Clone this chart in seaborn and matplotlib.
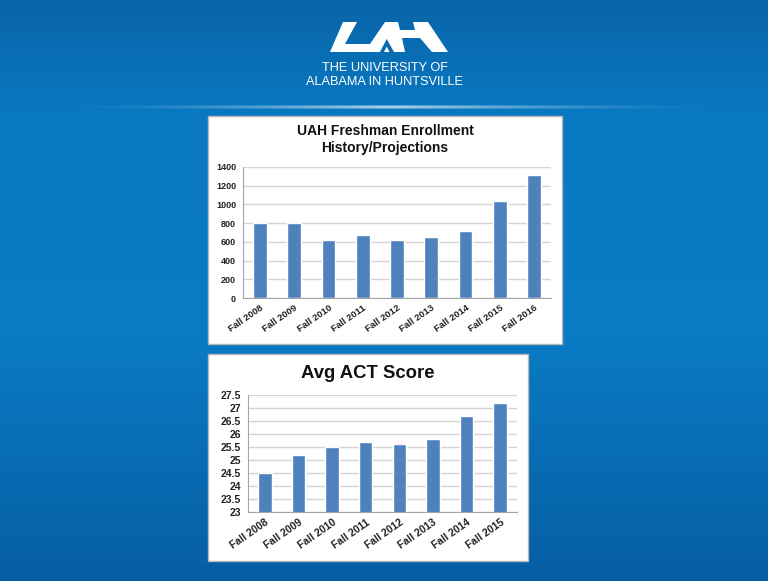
import numpy as np
import pandas as pd
import matplotlib
matplotlib.use('Agg')
import matplotlib.pyplot as plt
from matplotlib.patches import Rectangle, Polygon
import seaborn as sns

# chart data
enroll_terms = ['Fall 2008', 'Fall 2009', 'Fall 2010', 'Fall 2011', 'Fall 2012',
                'Fall 2013', 'Fall 2014', 'Fall 2015', 'Fall 2016']
enroll_values = [800, 800, 620, 675, 625, 650, 720, 1035, 1310]
enroll_ticks = [0, 200, 400, 600, 800, 1000, 1200, 1400]

act_terms = ['Fall 2008', 'Fall 2009', 'Fall 2010', 'Fall 2011', 'Fall 2012',
             'Fall 2013', 'Fall 2014', 'Fall 2015']
act_values = [24.5, 25.2, 25.5, 25.7, 25.6, 25.8, 26.7, 27.2]
act_ticks = [23, 23.5, 24, 24.5, 25, 25.5, 26, 26.5, 27, 27.5]
act_tick_labels = ['23', '23.5', '24', '24.5', '25', '25.5', '26', '26.5', '27', '27.5']

bar_color = '#4f81bd'

sns.set_style('white')
plt.rcParams['font.family'] = ['Liberation Sans', 'DejaVu Sans']

W, H = 768, 581
fig = plt.figure(figsize=(W / 100, H / 100), dpi=100)

def fx(x):
    return x / W

def fy(y):
    return 1 - y / H

# slide background, vertical blue gradient
bg = fig.add_axes([0, 0, 1, 1], zorder=-10)
rows = np.arange(H)
stops = [0, 110, 330, 581]
grad = np.zeros((H, 1, 3))
grad[:, 0, 0] = np.interp(rows, stops, [10, 8, 9, 6]) / 255
grad[:, 0, 1] = np.interp(rows, stops, [100, 120, 124, 94]) / 255
grad[:, 0, 2] = np.interp(rows, stops, [168, 192, 198, 162]) / 255
bg.imshow(grad, aspect='auto', extent=[0, W, H, 0])
# glowing separator line under the logo
glow = np.ones((3, W, 4))
xs = np.arange(W)
a = np.clip(1 - np.abs(xs - 390) / 330, 0, 1) ** 1.5
glow[:, :, 3] = a[None, :] * np.array([0.35, 0.8, 0.35])[:, None]
bg.imshow(glow, aspect='auto', extent=[0, W, 109, 105])

# UAH mark, rough outline in pixel coords
logo = [(343, 22), (357, 22), (345, 44), (370, 44), (385, 22), (398, 22),
        (400, 30), (415, 30), (413, 22), (428, 22), (448, 52), (432, 52),
        (420, 38), (402, 38), (405, 52), (330, 52)]
bg.add_patch(Polygon(logo, closed=True, facecolor='white', edgecolor='none'))
bg.add_patch(Polygon([(380, 52), (386.7, 39), (394, 52)], closed=True,
                     facecolor='#0a68ae', edgecolor='none'))
bg.add_patch(Polygon([(384, 52), (386.7, 46.5), (389.5, 52)], closed=True,
                     facecolor='white', edgecolor='none'))
bg.set_xlim(0, W)
bg.set_ylim(H, 0)
bg.axis('off')

fig.text(fx(385), fy(68), 'THE UNIVERSITY OF', color='white', fontsize=9.2,
         ha='center', va='center')
fig.text(fx(385), fy(82), 'ALABAMA IN HUNTSVILLE', color='white', fontsize=9.2,
         ha='center', va='center')

# white chart boxes
fig.add_artist(Rectangle((fx(208), fy(344)), fx(354), 228 / H, transform=fig.transFigure,
                         facecolor='white', edgecolor='#b8b8b8', lw=1, zorder=0))
fig.add_artist(Rectangle((fx(208), fy(561)), fx(320), 207 / H, transform=fig.transFigure,
                         facecolor='white', edgecolor='#b8b8b8', lw=1, zorder=0))


def style_axes(ax, n, ticks, labels, tick_size, x_size):
    ax.set_xlim(-0.5, n - 0.5)
    ax.set_ylim(ticks[0], ticks[-1])
    ax.set_yticks(ticks)
    ax.set_yticklabels(labels, fontsize=tick_size, fontweight='bold', color='#222222')
    ax.yaxis.grid(True, color='#d4d4d4', lw=1)
    ax.set_axisbelow(True)
    for s in ['top', 'right']:
        ax.spines[s].set_visible(False)
    for s in ['left', 'bottom']:
        ax.spines[s].set_color('#a6a6a6')
        ax.spines[s].set_linewidth(0.8)
    ax.set_xticks(np.arange(-0.5, n, 1), minor=True)
    ax.tick_params(axis='x', which='minor', length=3, color='#a6a6a6', width=0.8)
    ax.tick_params(axis='x', which='major', length=0, pad=4)
    ax.tick_params(axis='y', length=3, color='#a6a6a6', width=0.8, pad=2)
    for lab in ax.get_xticklabels():
        lab.set_rotation(35)
        lab.set_ha('right')
        lab.set_va('top')
        lab.set_rotation_mode('anchor')
        lab.set_fontsize(x_size)
        lab.set_fontweight('bold')
        lab.set_color('#222222')
    ax.set_xlabel('')
    ax.set_ylabel('')
    ax.patch.set_alpha(0)


# enrollment chart
ax1 = fig.add_axes([fx(243), fy(298), fx(308), 131 / H])
df1 = pd.DataFrame({'term': enroll_terms, 'students': enroll_values})
sns.barplot(data=df1, x='term', y='students', color=bar_color, saturation=1,
            width=0.4, ax=ax1)
style_axes(ax1, len(enroll_terms), enroll_ticks, [str(t) for t in enroll_ticks], 6.5, 6.8)
fig.text(fx(385), fy(131), 'UAH Freshman Enrollment', ha='center', va='center',
         fontsize=10, fontweight='bold', color='#111111')
fig.text(fx(385), fy(148), 'History/Projections', ha='center', va='center',
         fontsize=10, fontweight='bold', color='#111111')

# ACT chart
ax2 = fig.add_axes([fx(248), fy(512), fx(269), 117 / H])
df2 = pd.DataFrame({'term': act_terms, 'score': act_values})
sns.barplot(data=df2, x='term', y='score', color=bar_color, saturation=1,
            width=0.4, ax=ax2)
style_axes(ax2, len(act_terms), act_ticks, act_tick_labels, 7.5, 7.5)
fig.text(fx(368), fy(374), 'Avg ACT Score', ha='center', va='center',
         fontsize=13.3, fontweight='bold', color='#111111')

fig.savefig('out.png', dpi=100)
